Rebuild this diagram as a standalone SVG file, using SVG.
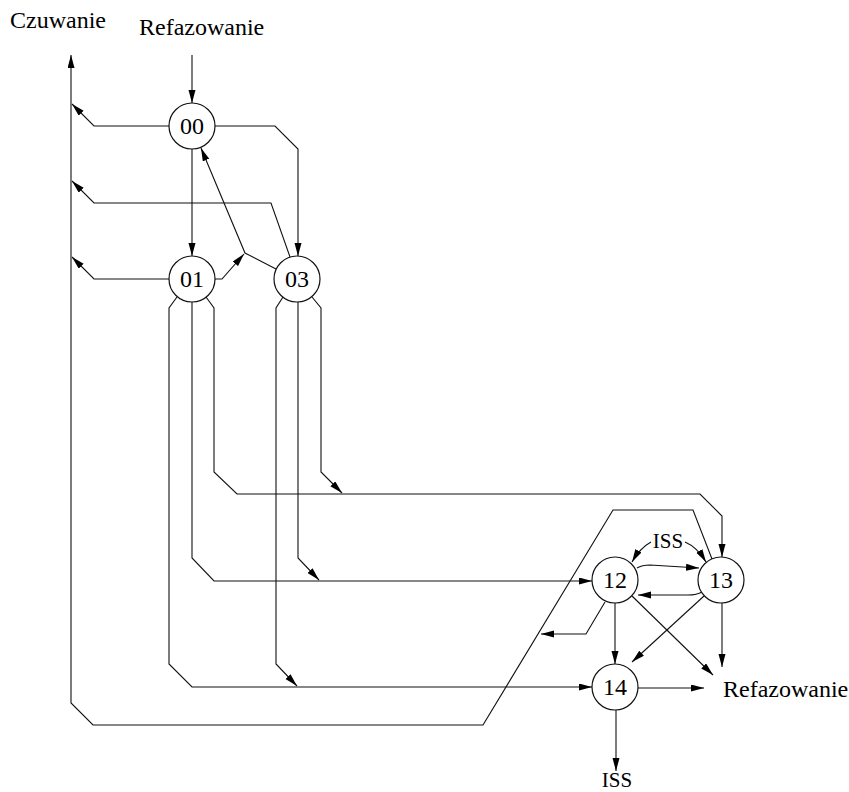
<svg xmlns="http://www.w3.org/2000/svg" width="849" height="792" viewBox="0 0 849 792">
<style>
  .n circle { fill: #fff; stroke: #111; stroke-width: 1.2; }
  .t { font-family: "Liberation Serif", "Times New Roman", serif; font-size: 24px; fill: #000; }
  .m { text-anchor: middle; }
  .c path { fill: none; stroke: #111; stroke-width: 1.1; marker-end: url(#ah); }
</style>
<defs>
  <marker id="ah" markerUnits="userSpaceOnUse" markerWidth="14" markerHeight="8" refX="13" refY="3.5" orient="auto">
    <path d="M0,0 L13,3.5 L0,7 z" fill="#000"/>
  </marker>
</defs>
<rect width="849" height="792" fill="#fff"/>

<g id="labels">
  <text class="t" x="10" y="28">Czuwanie</text>
  <text class="t" x="139" y="35">Refazowanie</text>
  <text class="t" x="723" y="697">Refazowanie</text>
  <text class="t m" x="668" y="548" style="font-size:21px">ISS</text>
  <text class="t m" x="617" y="787" style="font-size:21px">ISS</text>
</g>

<g id="connectors" class="c">
  <path d="M192,55 V103"/>
  <path d="M169,126 H94 L72,104"/>
  <path d="M192,149 V256"/>
  <path d="M215,126 H275 L298,149 V256"/>
  <path d="M290,257 L271,203 H94 L72,181"/>
  <path d="M169,279 H94 L72,257"/>
  <path d="M276,269 L245,253 L201,148"/>
  <path d="M215,279 H222 L244,254"/>
  <path d="M206,297 L214,308 V472 L237,494 H700 L722,516 V557"/>
  <path d="M312,297 L321,308 V472 L342,493"/>
  <path d="M192,302 V558 L214,581 H592"/>
  <path d="M298,302 V558 L319,580"/>
  <path d="M177,297 L169,308 V664 L192,687 H592"/>
  <path d="M283,297 L276,308 V664 L297,686"/>
  <path d="M712,559 L693,510 H613 L483,725 H93 L71,703 V55"/>
  <path d="M651,542 Q640,548 632,562"/>
  <path d="M685,542 Q697,547 706,562"/>
  <path d="M637,568 Q642,565 650,565 L699,568"/>
  <path d="M702,592 Q697,595 688,595 H638"/>
  <path d="M605,602 L586,634 H541"/>
  <path d="M615,603 V664"/>
  <path d="M704,596 L632,662"/>
  <path d="M632,596 L713,675"/>
  <path d="M722,603 V667"/>
  <path d="M638,688 H704"/>
  <path d="M616,710 V771"/>
</g>

<g id="n00" class="n"><circle cx="192" cy="126" r="23"/><text class="t m" x="192" y="134">00</text></g>
<g id="n01" class="n"><circle cx="192" cy="279" r="23"/><text class="t m" x="192" y="287">01</text></g>
<g id="n03" class="n"><circle cx="297" cy="279" r="23"/><text class="t m" x="297" y="287">03</text></g>
<g id="n12" class="n"><circle cx="615" cy="580" r="23"/><text class="t m" x="615" y="588">12</text></g>
<g id="n13" class="n"><circle cx="721" cy="580" r="23"/><text class="t m" x="721" y="588">13</text></g>
<g id="n14" class="n"><circle cx="615" cy="687" r="23"/><text class="t m" x="615" y="695">14</text></g>
</svg>
